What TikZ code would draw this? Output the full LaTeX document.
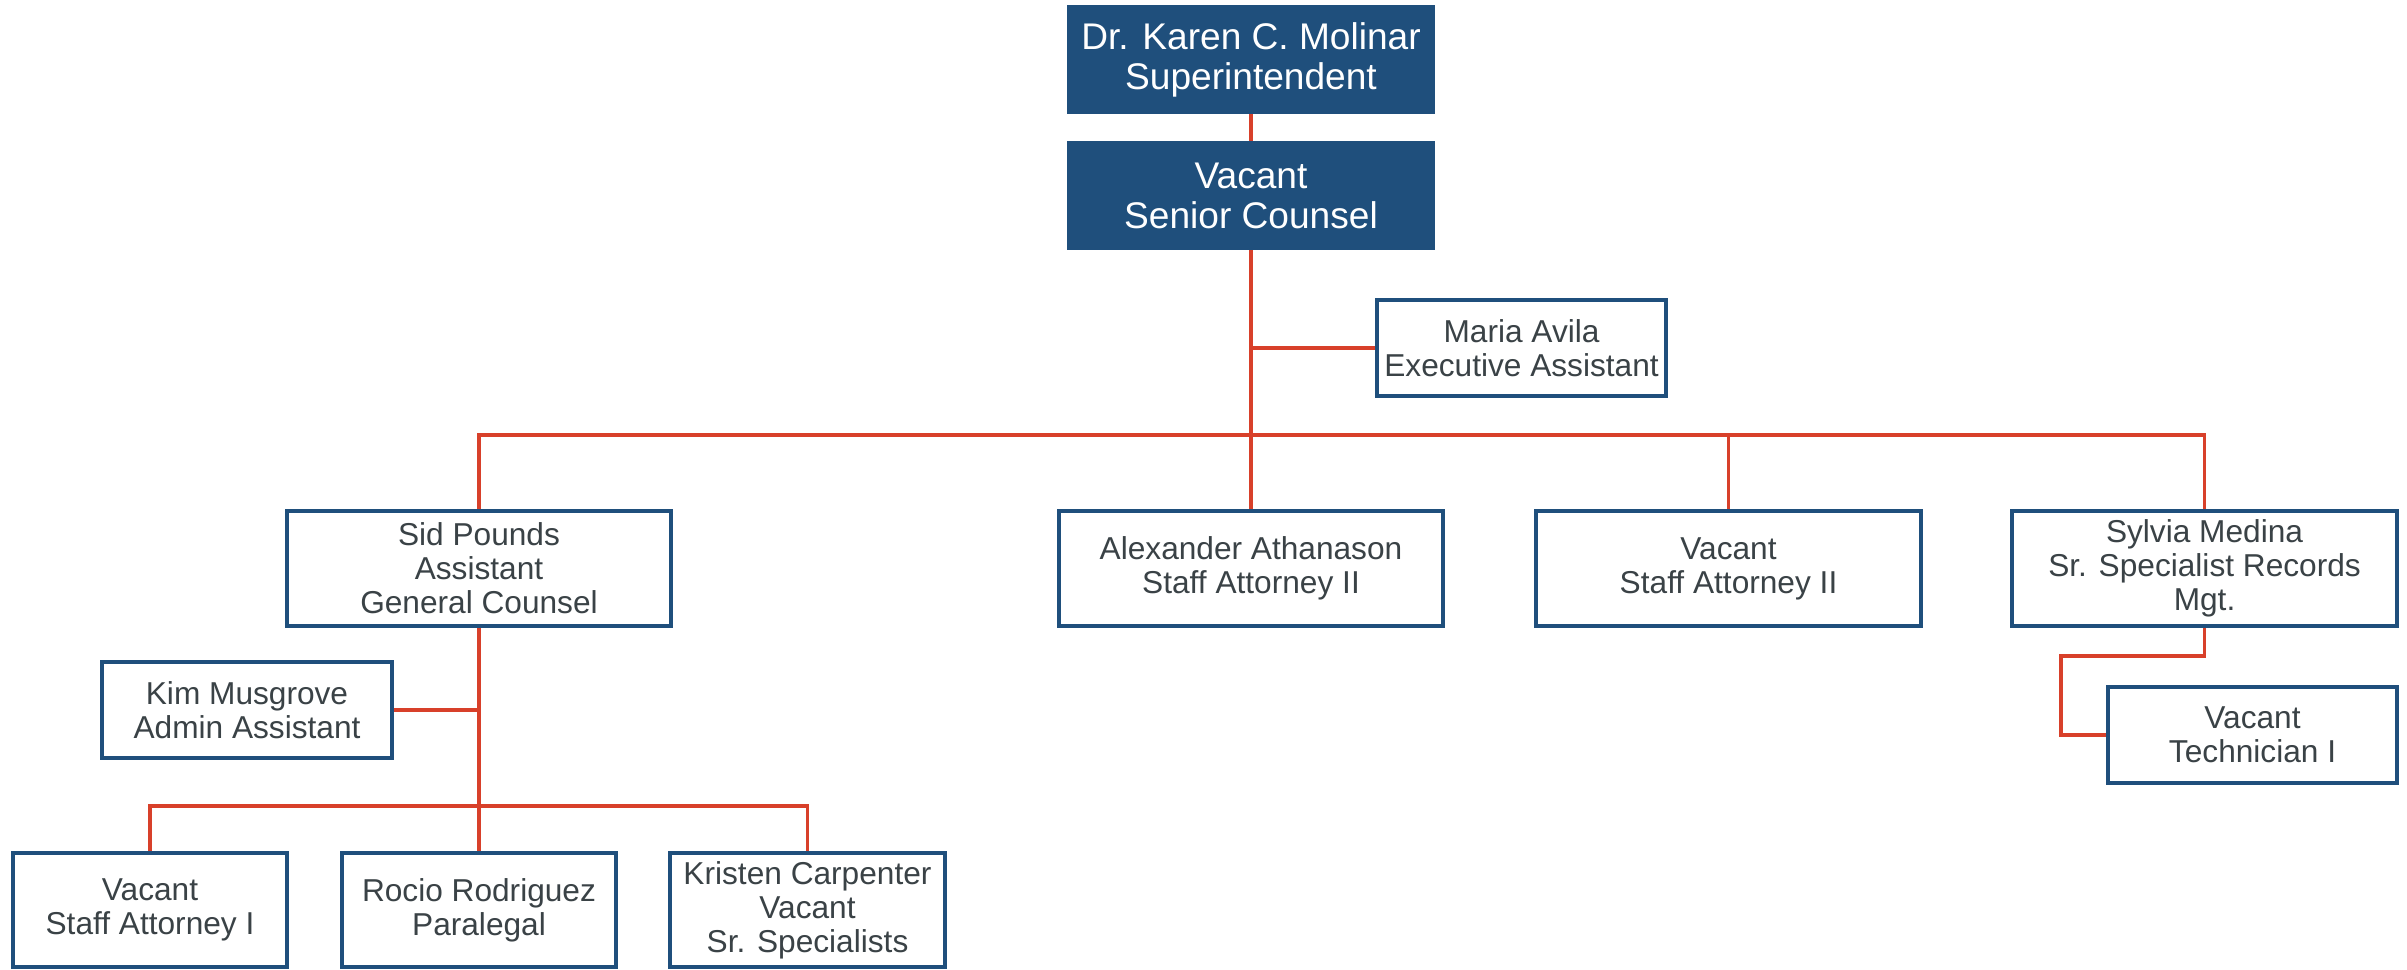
\documentclass[tikz,border=0pt]{standalone}
\usepackage{fontspec}
\setmainfont{Liberation Sans}
\usepackage{tikz}
\usetikzlibrary{positioning,calc}
\definecolor{navy}{RGB}{31,79,124}
\definecolor{linkred}{RGB}{216,64,42}
\definecolor{ink}{RGB}{58,66,70}
\tikzset{
  post/.style={draw=navy,line width=1.15pt,fill=white,text=ink,align=center,
               inner sep=0pt,font=\fontsize{9}{9.7}\selectfont},
  posthead/.style={post,fill=navy,text=white,minimum width=3.64cm,minimum height=1.05cm,
               font=\fontsize{10.55}{11.4}\selectfont},
  postwide/.style={post,minimum width=3.84cm,minimum height=1.15cm},
  postlow/.style={post,minimum width=2.74cm,minimum height=1.14cm},
  postside/.style={post,minimum width=2.89cm,minimum height=0.96cm},
  link/.style={draw=linkred,line width=1.05pt},
}

\begin{document}
\begin{tikzpicture}[x=0.01cm,y=-0.01cm]
  \useasboundingbox (0,0) rectangle (2407,969);
  % --- top of the chart ---
  \node[posthead] (sup) at (1251,59.5) {Dr. Karen C. Molinar\\Superintendent};
  \node[posthead] (sc)  at (1251,195.5) {Vacant\\Senior Counsel};
  \node[postside] (maria) at (1521.5,348) {Maria Avila\\Executive Assistant};
  % --- second row ---
  \foreach \n/\x/\lab in {sid/479/{Sid Pounds\\Assistant\\General Counsel},
                          alex/1251/{Alexander Athanason\\Staff Attorney II},
                          vactwo/1728.5/{Vacant\\Staff Attorney II},
                          sylvia/2204.5/{Sylvia Medina\\Sr. Specialist Records\\Mgt.}} {
    \node[postwide] (\n) at (\x,568.5) {\lab};
  }
  % --- under Sid Pounds ---
  \node[postside] (kim) at (247,710) {Kim Musgrove\\Admin Assistant};
  \foreach \n/\x/\lab in {vacone/150/{Vacant\\Staff Attorney I},
                          rocio/479/{Rocio Rodriguez\\Paralegal},
                          kristen/807.5/{Kristen Carpenter\\Vacant\\Sr. Specialists}} {
    \node[postlow] (\n) at (\x,910) {\lab};
  }
  % --- under Sylvia Medina ---
  \node[postside] (tech) at (2252.5,735) {Vacant\\Technician I};
  % --- connectors ---
  \coordinate (bus) at (0,435);
  \coordinate (subbus) at (0,806);
  \coordinate (elbow) at (2061,656);
  \draw[link] (sup) -- (sc);
  \draw[link] (sc.south) -- (alex.north);
  \draw[link] (maria.west) -- (maria.west -| sc.south);
  \draw[link] (sid.north) -- (sid.north |- bus) -| (sylvia.north);
  \draw[link] (vactwo.north) -- (vactwo.north |- bus);
  \draw[link] (sid.south) -- (rocio.north);
  \draw[link] (kim.east) -- (kim.east -| sid.south);
  \draw[link] (vacone.north) -- (vacone.north |- subbus) -| (kristen.north);
  \draw[link] (sylvia.south) |- (elbow) |- (tech.west);
\end{tikzpicture}
\end{document}
